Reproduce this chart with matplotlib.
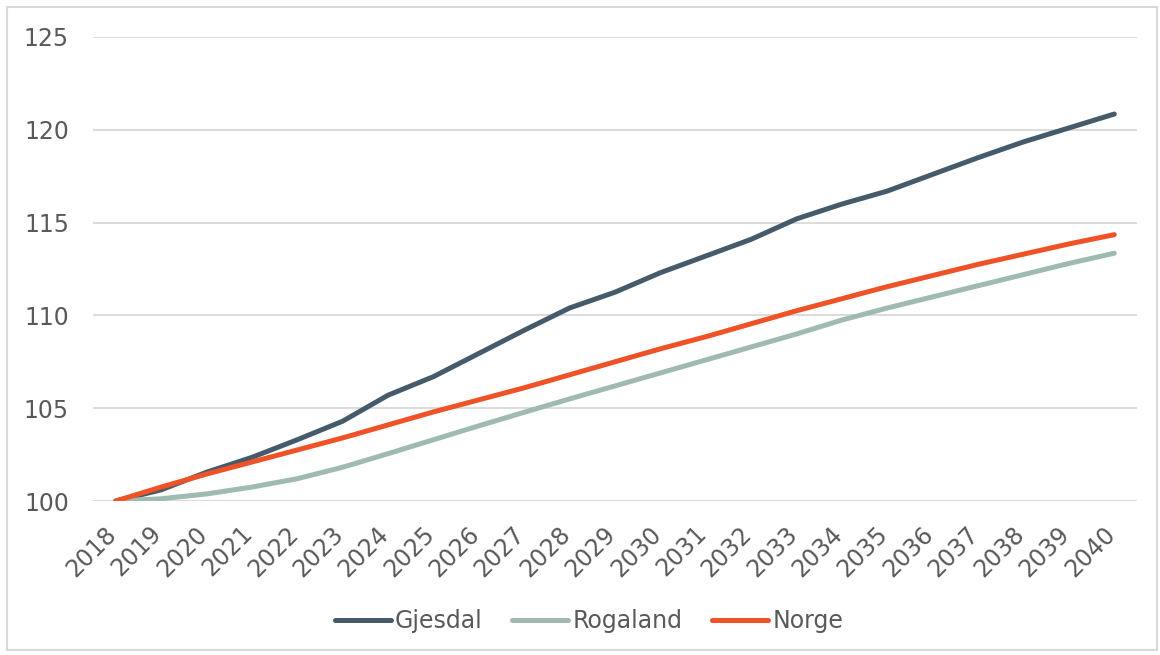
import matplotlib
matplotlib.use("Agg")
import matplotlib.pyplot as plt
from matplotlib.patches import Rectangle
from matplotlib.transforms import ScaledTranslation

years = [str(y) for y in range(2018, 2041)]
gjesdal = [100.0, 100.6, 101.55, 102.35, 103.3, 104.3, 105.7, 106.7, 107.95, 109.2,
           110.4, 111.25, 112.3, 113.2, 114.1, 115.2, 116.0, 116.7, 117.6, 118.5,
           119.35, 120.1, 120.85]
rogaland = [100.0, 100.12, 100.38, 100.75, 101.2, 101.82, 102.55, 103.3, 104.05, 104.78,
            105.5, 106.2, 106.9, 107.6, 108.3, 109.0, 109.75, 110.4, 111.0, 111.6,
            112.2, 112.8, 113.35]
norge = [100.0, 100.75, 101.45, 102.1, 102.75, 103.4, 104.1, 104.8, 105.45, 106.1,
         106.8, 107.5, 108.2, 108.85, 109.55, 110.25, 110.9, 111.55, 112.15, 112.75,
         113.3, 113.85, 114.35]
series_names = ["Gjesdal", "Rogaland", "Norge"]
colors = ["#455B6B", "#9FBAAE", "#F05228"]
yticks = [100, 105, 110, 115, 120, 125]

W, H = 1160, 655
fig = plt.figure(figsize=(W / 100, H / 100), dpi=100)
fig.patches.append(Rectangle((7 / W, 5 / H), 1150 / W, 643 / H, transform=fig.transFigure,
                             fill=False, edgecolor="#D9D9D9", linewidth=1.5))
ax = fig.add_axes([93 / W, 1 - 501 / H, (1137 - 93) / W, (501 - 37) / H])

x = list(range(len(years)))
for name, vals, c in zip(series_names, [gjesdal, rogaland, norge], colors):
    ax.plot(x, vals, color=c, linewidth=3.6, solid_capstyle="round", label=name, zorder=3)

ax.set_xlim(-0.5, len(years) - 0.5)
ax.set_ylim(100, 125)
ax.set_yticks(yticks)
ax.set_yticklabels([str(v) for v in yticks])
ax.set_xticks(x)
ax.set_xticklabels(years, rotation=45, ha="right", va="center", rotation_mode="anchor")
ax.grid(axis="y", color="#D9D9D9", linewidth=1.3, zorder=0)
for s in ax.spines.values():
    s.set_visible(False)
ax.tick_params(axis="both", length=0, labelsize=17, labelcolor="#595959")
ax.tick_params(axis="y", pad=17.3)
ax.tick_params(axis="x", pad=21)
shift = ScaledTranslation(-3 / 100, 0, fig.dpi_scale_trans)
for lbl in ax.get_xticklabels():
    lbl.set_transform(lbl.get_transform() + shift)

fig.legend(loc="center", bbox_to_anchor=(589 / W, 1 - 621 / H), ncol=3, frameon=False,
           fontsize=17, labelcolor="#595959", handlelength=2.37, handletextpad=0.17,
           columnspacing=1.27)

fig.savefig("out.png", dpi=100)
